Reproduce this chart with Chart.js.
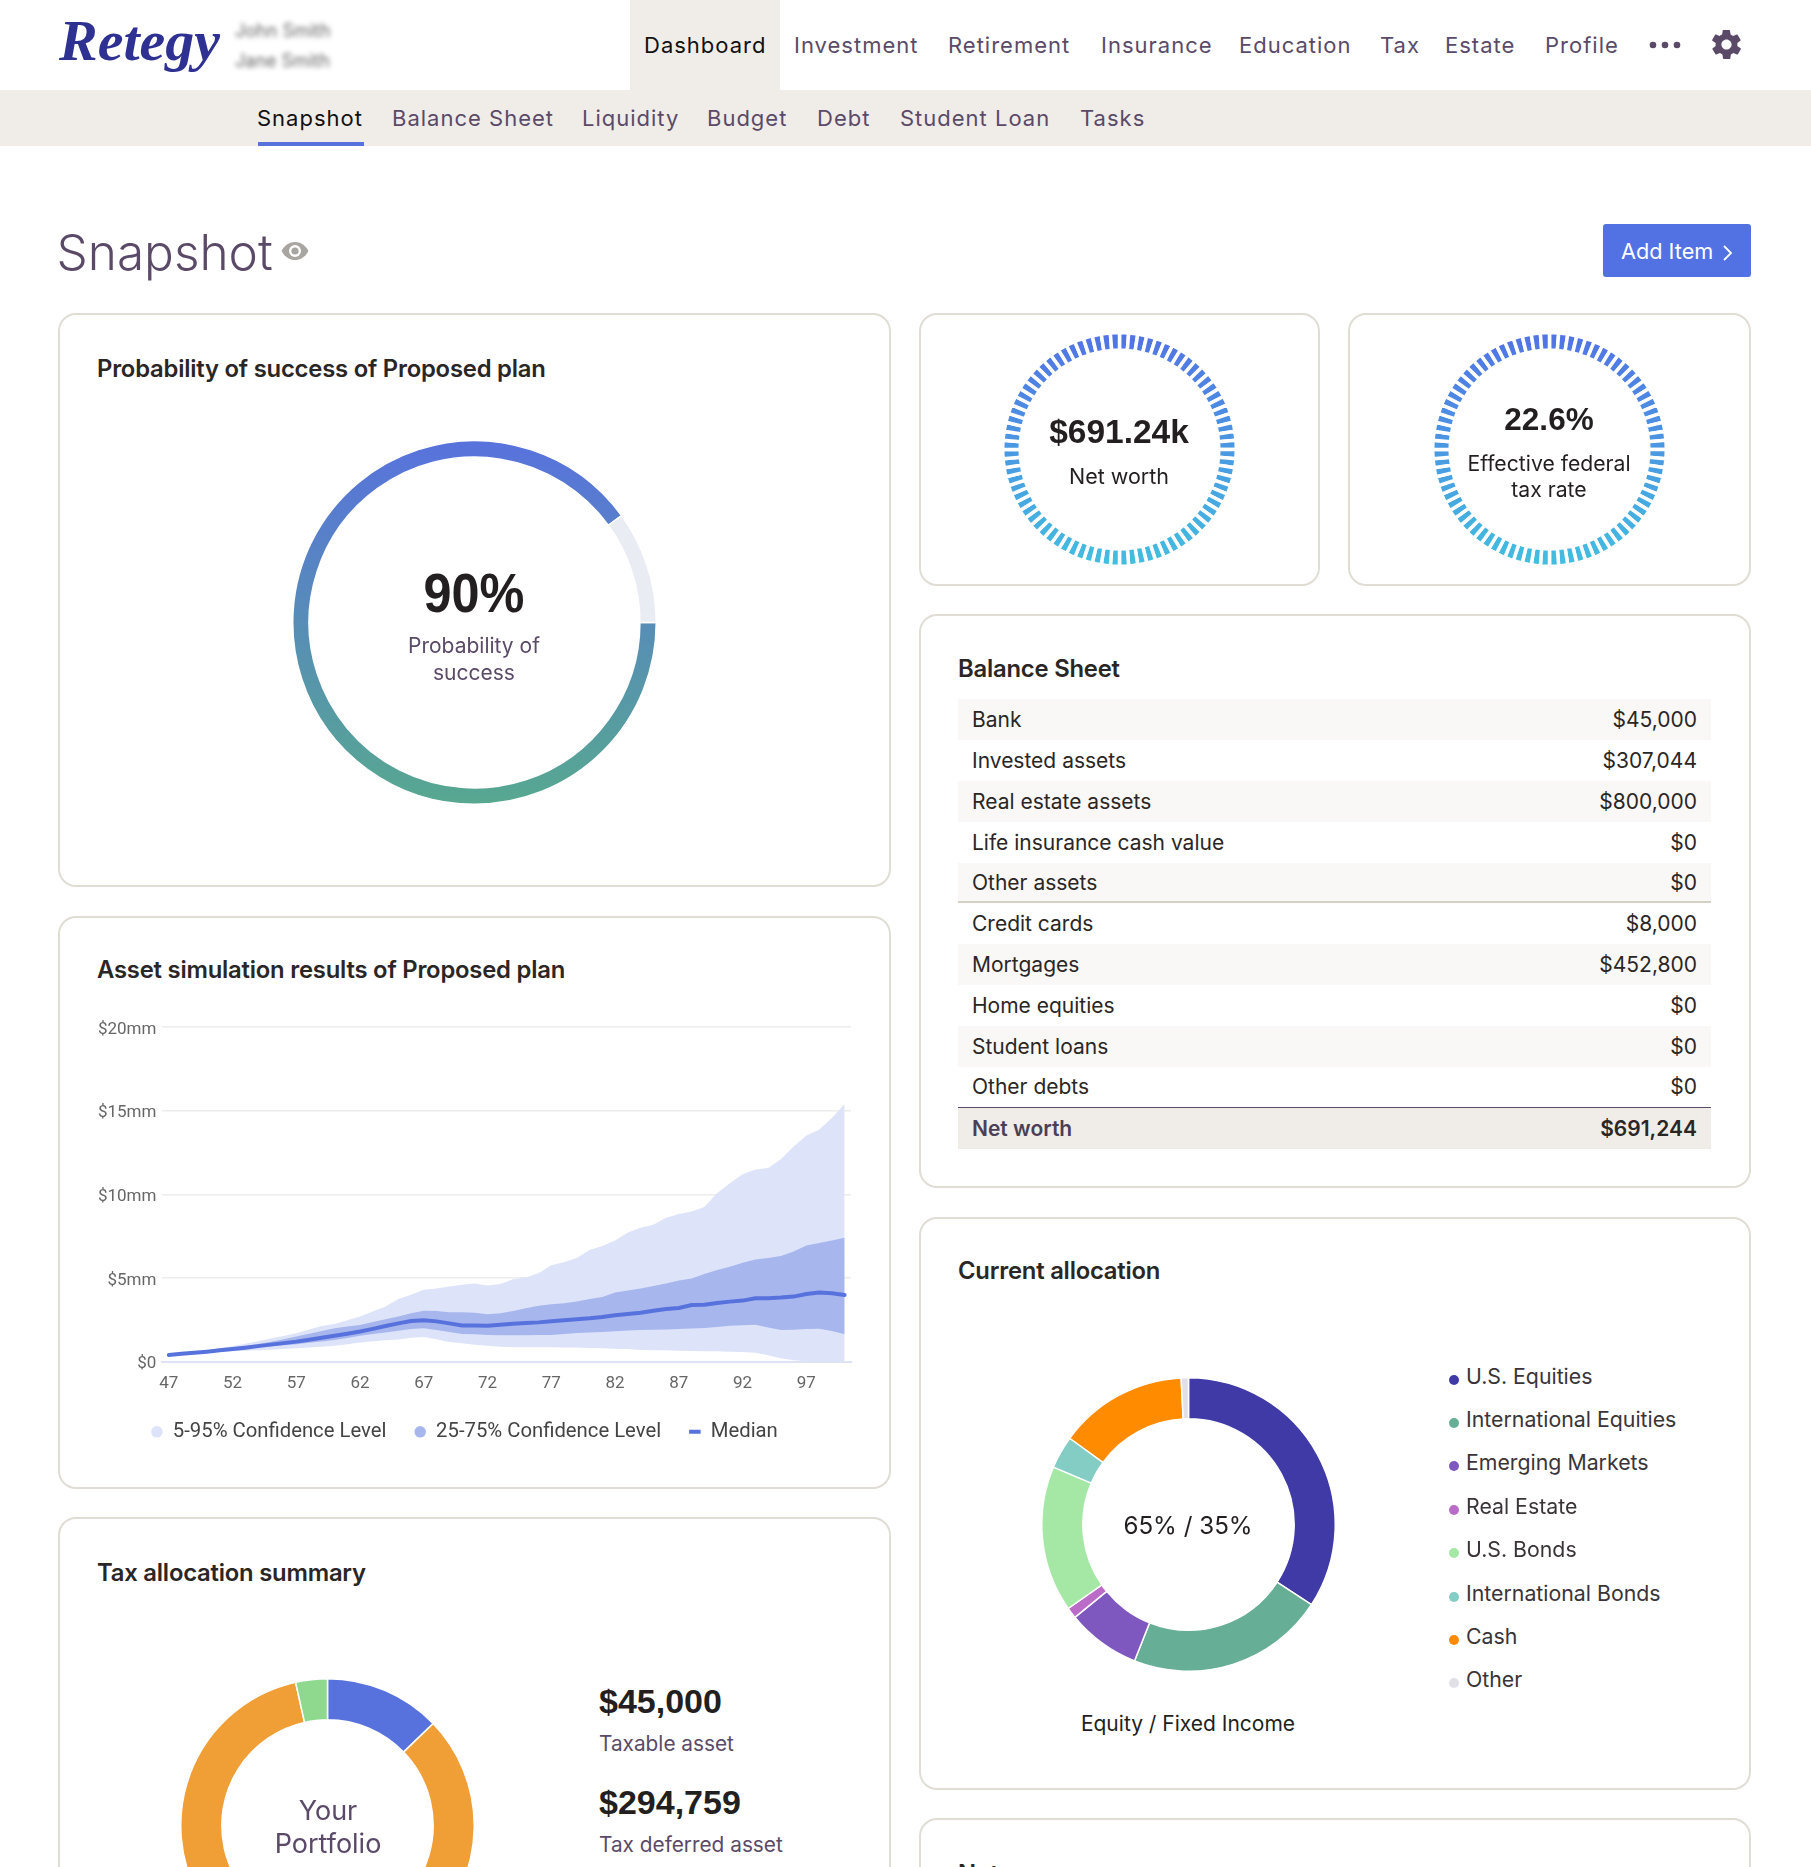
<!DOCTYPE html>
<html>
<head>
<meta charset="utf-8">
<title>Snapshot</title>
<script src="https://cdn.jsdelivr.net/npm/chart.js@4"></script>
<style>
html, body { margin: 0; padding: 0; width: 1811px; height: 1867px; overflow: hidden; background: #fff; }
body { position: relative; font-family: Inter, "Noto Sans", sans-serif; color: #2a2625; }
.t { position: absolute; white-space: nowrap; transform: translateY(-50%); }
.c { position: absolute; white-space: nowrap; transform: translate(-50%, -50%); text-align: center; }
.box { position: absolute; }
.card { position: absolute; box-sizing: border-box; border: 2px solid #e0ddd5; border-radius: 18px; background: #fff; }
.nav { font-size: 22px; letter-spacing: 1px; color: #5a4a68; }
.title { font-size: 23.8px; font-weight: 600; color: #2a2625; letter-spacing: -0.2px; }
.num { font-family: "Liberation Sans", Arial, sans-serif; font-weight: 700; color: #231f20; }
.sub { font-size: 21px; color: #5a4a68; }
canvas { position: absolute; display: block; }
#sheet { position: absolute; left: 958px; top: 699px; width: 753px; }
.row { display: flex; justify-content: space-between; align-items: center; box-sizing: border-box; height: 40.9px; padding: 0 14px; font-size: 21px; color: #2a2625; }
.row.shade { background: #f9f8f6; }
.row.rule { border-bottom: 2px solid #d5d1c5; }
.row.rule2 { border-bottom: 1.5px solid #5a4a68; }
.row.total { background: #f0ede8; font-weight: 600; color: #4b3f58; }
.row.total span:last-child { color: #2a2625; }
.dot { position: absolute; width: 10px; height: 10px; border-radius: 50%; }
</style>
</head>
<body>
<!-- header -->
<div class="box" style="left:630px;top:0;width:150px;height:90px;background:#f0ede8"></div>
<div class="box" style="left:0;top:90px;width:1811px;height:56px;background:#f0ede8"></div>
<div class="box" style="left:258px;top:142px;width:106px;height:4px;background:#5872dd"></div>
<div class="t" style="left:59px;top:40px;font:italic 700 58px 'Liberation Serif',serif;color:#2e3192">Retegy</div>
<div class="t" style="left:235px;top:30px;font-size:18px;color:#666;filter:blur(2.5px)">John Smith</div>
<div class="t" style="left:235px;top:60px;font-size:18px;color:#666;filter:blur(2.5px)">Jane Smith</div>
<div id="topNav"></div>
<div id="subNav"></div>
<svg class="box" style="left:1647px;top:40px" width="36" height="10"><circle cx="6" cy="5" r="3.3" fill="#5a4a68"/><circle cx="18" cy="5" r="3.3" fill="#5a4a68"/><circle cx="30" cy="5" r="3.3" fill="#5a4a68"/></svg>
<svg class="box" style="left:1708.500px;top:26.500px" width="35" height="35" viewBox="0 0 24 24"><path fill="#5a4a68" d="M19.4 13c.1-.3.1-.7.1-1s0-.7-.1-1l2.1-1.6c.2-.2.2-.4.1-.6l-2-3.5c-.1-.2-.4-.3-.6-.2l-2.5 1c-.5-.4-1.1-.7-1.7-1l-.4-2.6c0-.3-.2-.5-.5-.5h-4c-.3 0-.5.2-.5.4l-.4 2.7c-.6.2-1.2.6-1.7 1l-2.5-1c-.2-.1-.5 0-.6.2l-2 3.5c-.1.2-.1.5.1.6L4.6 11c0 .3-.1.7-.1 1s0 .7.1 1l-2.1 1.6c-.2.2-.2.4-.1.6l2 3.5c.1.2.4.3.6.2l2.5-1c.5.4 1.1.7 1.7 1l.4 2.6c0 .3.2.5.5.5h4c.3 0 .5-.2.5-.4l.4-2.7c.6-.2 1.2-.6 1.7-1l2.5 1c.2.1.5 0 .6-.2l2-3.5c.1-.2.1-.5-.1-.6L19.4 13zM12 15.5c-1.9 0-3.5-1.6-3.5-3.5s1.6-3.5 3.5-3.5 3.5 1.6 3.5 3.5-1.6 3.5-3.5 3.5z"/></svg>

<div class="t" style="left:56.500px;top:252px;font-size:49.500px;font-weight:300;color:#5a4a68">Snapshot</div>
<svg class="box" style="left:281px;top:241px" width="28" height="20" viewBox="0 0 28 20"><path fill="#a9a5a0" d="M14 1C7.5 1 2.6 5.4.6 10c2 4.6 6.9 9 13.4 9s11.4-4.4 13.4-9C25.4 5.4 20.500 1 14 1z"/><circle cx="14" cy="10" r="6" fill="#fff"/><circle cx="14" cy="10" r="3.600" fill="#a9a5a0"/></svg>
<div class="box" style="left:1603px;top:224px;width:148px;height:53px;background:#5272e4;border-radius:3px"></div>
<div class="t" style="left:1621px;top:251px;font-size:21.700px;color:#fff">Add Item</div>
<svg class="box" style="left:1722px;top:244px" width="12" height="18"><path d="M2 2l7 7-7 7" fill="none" stroke="#fff" stroke-width="1.800"/></svg>

<!-- cards -->
<div class="card" style="left:58px;top:313px;width:833px;height:574px"></div>
<div class="card" style="left:58px;top:915.500px;width:833px;height:573px"></div>
<div class="card" style="left:58px;top:1517px;width:833px;height:573px"></div>
<div class="card" style="left:919px;top:313px;width:401px;height:273px"></div>
<div class="card" style="left:1348px;top:313px;width:403px;height:273px"></div>
<div class="card" style="left:919px;top:614px;width:832px;height:574px"></div>
<div class="card" style="left:919px;top:1216.500px;width:832px;height:573px"></div>
<div class="card" style="left:919px;top:1818px;width:832px;height:573px"></div>

<div class="t title" style="left:97px;top:367.500px">Probability of success of Proposed plan</div>
<div class="t title" style="left:97px;top:969px">Asset simulation results of Proposed plan</div>
<div class="t title" style="left:97px;top:1571.500px">Tax allocation summary</div>
<div class="t title" style="left:958px;top:668px">Balance Sheet</div>
<div class="t title" style="left:958px;top:1270px">Current allocation</div>
<div class="t title" style="left:958px;top:1873px">Notes</div>

<!-- probability donut -->
<canvas id="successChart" width="365" height="365" style="left:291.500px;top:439.500px"></canvas>
<div class="c num" style="left:474px;top:592px;font-size:56px;transform:translate(-50%,-50%) scaleX(.9)">90%</div>
<div class="c sub" style="left:474px;top:645px">Probability of</div>
<div class="c sub" style="left:474px;top:672px">success</div>

<!-- tick rings -->
<canvas id="netWorthRing" width="237" height="237" style="left:1000.500px;top:331px"></canvas>
<div class="c num" style="left:1119px;top:432px;font-size:33.500px">$691.24k</div>
<div class="c" style="left:1119px;top:476px;font-size:21.500px;color:#231f20">Net worth</div>
<canvas id="taxRateRing" width="237" height="237" style="left:1430.500px;top:331px"></canvas>
<div class="c num" style="left:1549px;top:419px;font-size:31.500px">22.6%</div>
<div class="c" style="left:1549px;top:463px;font-size:21.200px;color:#231f20">Effective federal</div>
<div class="c" style="left:1549px;top:489px;font-size:21.200px;color:#231f20">tax rate</div>

<!-- asset simulation -->
<canvas id="simChart" width="792" height="442" style="left:78px;top:1010px"></canvas>

<!-- tax allocation -->
<canvas id="taxChart" width="295" height="295" style="left:180px;top:1677.500px"></canvas>
<div class="c" style="left:328px;top:1810px;font-size:27px;color:#5a4a68">Your</div>
<div class="c" style="left:328px;top:1843px;font-size:27px;color:#5a4a68">Portfolio</div>
<div class="t num" style="left:599px;top:1700.500px;font-size:34px" id="taxableValue"></div>
<div class="t sub" style="left:599px;top:1743px;font-size:20.800px">Taxable asset</div>
<div class="t num" style="left:599px;top:1801.500px;font-size:34px" id="deferredValue"></div>
<div class="t sub" style="left:599px;top:1844px;font-size:20.800px">Tax deferred asset</div>

<!-- balance sheet -->
<div id="sheet"></div>

<!-- current allocation -->
<canvas id="allocChart" width="295" height="295" style="left:1041px;top:1377px"></canvas>
<div class="c" style="left:1188px;top:1525px;font-size:24.200px;color:#231f20">65% / 35%</div>
<div class="c" style="left:1188px;top:1723px;font-size:21px;color:#231f20">Equity / Fixed Income</div>
<div id="allocLegend"></div>

<script>
const topNavItems = ['Dashboard', 'Investment', 'Retirement', 'Insurance', 'Education', 'Tax', 'Estate', 'Profile'];
const subNavItems = ['Snapshot', 'Balance Sheet', 'Liquidity', 'Budget', 'Debt', 'Student Loan', 'Tasks'];

const successValues = [90, 10];

const ringSegments = [
    1, 1, 1, 1, 1, 1, 1, 1, 1, 1, 1, 1, 1, 1, 1, 1, 1, 1, 1, 1,
    1, 1, 1, 1, 1, 1, 1, 1, 1, 1, 1, 1, 1, 1, 1, 1, 1, 1, 1, 1,
    1, 1, 1, 1, 1, 1, 1, 1, 1, 1, 1, 1, 1, 1, 1, 1, 1, 1, 1, 1,
    1, 1, 1, 1, 1, 1, 1, 1, 1, 1, 1, 1, 1, 1, 1, 1, 1, 1, 1, 1
];

// Ages on the x axis, values in $mm
const ages = [47, 48, 49, 50, 51, 52, 53, 54, 55, 56, 57, 58, 59, 60, 61, 62, 63, 64, 65, 66, 67, 68, 69, 70, 71, 72, 73,
    74, 75, 76, 77, 78, 79, 80, 81, 82, 83, 84, 85, 86, 87, 88, 89, 90, 91, 92, 93, 94, 95, 96, 97, 98, 99, 100];
const upper95 = [0.4, 0.5, 0.58, 0.68, 0.8, 0.92, 1.07, 1.22, 1.38, 1.54, 1.7, 1.92, 2.13, 2.25, 2.48, 2.7, 3.0, 3.3,
    3.75, 4.0, 4.3, 4.37, 4.5, 4.6, 4.67, 4.55, 4.65, 4.93, 5.03, 5.28, 5.76, 5.94, 6.2, 6.68, 6.92, 7.24, 7.72, 8.0,
    8.18, 8.6, 8.83, 8.97, 9.25, 10.07, 10.67, 11.2, 11.49, 11.57, 12.1, 12.86, 13.52, 13.86, 14.56, 15.4];
const lower5 = [0.4, 0.44, 0.48, 0.53, 0.58, 0.63, 0.66, 0.69, 0.72, 0.76, 0.8, 0.85, 0.9, 0.96, 1.05, 1.14, 1.22, 1.28,
    1.33, 1.43, 1.48, 1.34, 1.18, 1.1, 1.02, 0.96, 0.9, 0.86, 0.86, 0.86, 0.86, 0.85, 0.85, 0.82, 0.8, 0.78, 0.76, 0.7,
    0.69, 0.68, 0.66, 0.64, 0.63, 0.62, 0.6, 0.58, 0.54, 0.38, 0.2, 0.08, 0.02, 0, 0, 0];
const upper75 = [0.4, 0.5, 0.57, 0.65, 0.74, 0.83, 0.94, 1.06, 1.19, 1.34, 1.5, 1.67, 1.84, 2.0, 2.1, 2.2, 2.37, 2.53,
    2.7, 2.89, 3.05, 3.03, 2.95, 2.95, 2.93, 2.83, 2.89, 3.03, 3.19, 3.35, 3.43, 3.49, 3.59, 3.75, 3.87, 4.13, 4.25, 4.37,
    4.53, 4.67, 4.85, 4.97, 5.24, 5.48, 5.68, 5.92, 6.1, 6.2, 6.32, 6.58, 6.94, 7.1, 7.24, 7.4];
const lower25 = [0.4, 0.47, 0.53, 0.59, 0.67, 0.76, 0.81, 0.87, 0.93, 0.99, 1.05, 1.13, 1.21, 1.3, 1.42, 1.55, 1.65, 1.75,
    1.85, 1.95, 2.0, 1.9, 1.77, 1.66, 1.64, 1.6, 1.58, 1.58, 1.58, 1.59, 1.6, 1.65, 1.71, 1.74, 1.77, 1.82, 1.87, 1.89,
    1.91, 1.93, 1.95, 1.98, 2.01, 2.08, 2.15, 2.18, 2.21, 2.05, 1.89, 1.91, 1.95, 1.97, 1.83, 1.64];
const median = [0.4, 0.47, 0.53, 0.6, 0.68, 0.76, 0.84, 0.93, 1.02, 1.11, 1.2, 1.31, 1.43, 1.55, 1.67, 1.8, 1.96, 2.13,
    2.29, 2.43, 2.47, 2.41, 2.29, 2.17, 2.17, 2.15, 2.21, 2.27, 2.31, 2.35, 2.41, 2.47, 2.53, 2.59, 2.67, 2.77, 2.85, 2.93,
    3.05, 3.15, 3.21, 3.39, 3.41, 3.51, 3.59, 3.65, 3.79, 3.79, 3.83, 3.89, 4.05, 4.13, 4.09, 3.99];
const yTickLabels = ['$0', '$5mm', '$10mm', '$15mm', '$20mm'];

const taxLabels = ['Taxable asset', 'Tax deferred asset', 'Tax free asset'];
const taxValues = [45000, 294759, 12285];

const allocLabels = ['U.S. Equities', 'International Equities', 'Emerging Markets', 'Real Estate', 'U.S. Bonds', 'International Bonds', 'Cash', 'Other'];
const allocValues = [34.2, 21.8, 8.1, 1.2, 16.1, 3.6, 14.2, 0.8];
const allocColors = ['#3f3aa6', '#67ae96', '#7f58bf', '#bb6cc8', '#a5e8a5', '#83cdc5', '#ff8c00', '#e0e0e6'];

const sheetLabels = ['Bank', 'Invested assets', 'Real estate assets', 'Life insurance cash value', 'Other assets', 'Credit cards', 'Mortgages', 'Home equities', 'Student loans', 'Other debts', 'Net worth'];
const sheetValues = ['$45,000', '$307,044', '$800,000', '$0', '$0', '$8,000', '$452,800', '$0', '$0', '$0', '$691,244'];

Chart.defaults.animation = false;
Chart.defaults.responsive = false;
Chart.defaults.plugins.tooltip.enabled = false;
Chart.defaults.plugins.legend.display = false;

// Header links
const topNavLeft = [644, 794, 948, 1101, 1239, 1380, 1445, 1545];
const subNavLeft = [257, 392, 582, 707, 817, 900, 1080];
function addLinks(holderId, items, lefts, y) {
    const holder = document.getElementById(holderId);
    items.forEach((item, i) => {
        const el = document.createElement('div');
        el.className = 't nav';
        el.style.left = lefts[i] + 'px';
        el.style.top = y + 'px';
        if (i === 0) el.style.color = '#111';
        el.textContent = item;
        holder.appendChild(el);
    });
}
addLinks('topNav', topNavItems, topNavLeft, 45);
addLinks('subNav', subNavItems, subNavLeft, 118);

// Balance sheet rows
const sheet = document.getElementById('sheet');
sheetLabels.forEach((label, i) => {
    const row = document.createElement('div');
    row.className = 'row';
    if (i % 2 === 0 && i < 10) row.classList.add('shade');
    if (label === 'Other assets') row.classList.add('rule');
    if (label === 'Other debts') row.classList.add('rule2');
    if (label === 'Net worth') row.classList.add('total');
    const name = document.createElement('span');
    name.textContent = label;
    const value = document.createElement('span');
    value.textContent = sheetValues[i];
    row.appendChild(name);
    row.appendChild(value);
    sheet.appendChild(row);
});

// Allocation legend
const legendRowsY = [1376, 1419, 1462, 1506, 1549, 1593, 1636, 1679];
const legendHolder = document.getElementById('allocLegend');
allocLabels.forEach((label, i) => {
    const dot = document.createElement('div');
    dot.className = 'dot';
    dot.style.left = '1449px';
    dot.style.top = (legendRowsY[i] - 1) + 'px';
    dot.style.background = allocColors[i];
    legendHolder.appendChild(dot);
    const text = document.createElement('div');
    text.className = 't';
    text.style.left = '1466px';
    text.style.top = legendRowsY[i] + 'px';
    text.style.fontSize = '21.3px';
    text.style.color = '#3a3438';
    text.textContent = label;
    legendHolder.appendChild(text);
});

document.getElementById('taxableValue').textContent = '$' + taxValues[0].toLocaleString('en-US');
document.getElementById('deferredValue').textContent = '$' + taxValues[1].toLocaleString('en-US');

function verticalGradient(canvas, top, bottom) {
    const grad = canvas.getContext('2d').createLinearGradient(0, 0, 0, canvas.height);
    grad.addColorStop(0, top);
    grad.addColorStop(1, bottom);
    return grad;
}

// Probability of success
const successCanvas = document.getElementById('successChart');
new Chart(successCanvas, {
    type: 'doughnut',
    data: {
        labels: ['Success', 'Remainder'],
        datasets: [{
            data: successValues,
            backgroundColor: [verticalGradient(successCanvas, '#5872dd', '#57a890'), '#e9ecf2'],
            borderColor: '#fff',
            borderWidth: 1.5
        }]
    },
    options: { rotation: 90, cutout: '91%' }
});

// Net worth and tax rate rings
['netWorthRing', 'taxRateRing'].forEach(id => {
    const canvas = document.getElementById(id);
    new Chart(canvas, {
        type: 'doughnut',
        data: {
            datasets: [{
                data: ringSegments,
                backgroundColor: verticalGradient(canvas, '#5272e4', '#42bfe0'),
                borderColor: '#fff',
                borderWidth: 3.5
            }]
        },
        options: { cutout: '85%' }
    });
});

// Asset simulation
new Chart(document.getElementById('simChart'), {
    type: 'line',
    data: {
        labels: ages,
        datasets: [
            { label: '5-95% Confidence Level', data: upper95, fill: 1, order: 3, backgroundColor: '#dde3f8', borderColor: '#dde3f8', borderWidth: 0, pointRadius: 0, pointStyle: 'circle' },
            { label: 'low5', data: lower5, order: 3, borderWidth: 0, pointRadius: 0 },
            { label: '25-75% Confidence Level', data: upper75, fill: 3, order: 2, backgroundColor: '#a7b7ee', borderColor: '#a7b7ee', borderWidth: 0, pointRadius: 0, pointStyle: 'circle' },
            { label: 'low25', data: lower25, order: 2, borderWidth: 0, pointRadius: 0 },
            { label: 'Median', data: median, order: 1, borderColor: '#5872dd', backgroundColor: '#5872dd', borderWidth: 4, borderCapStyle: 'round', pointRadius: 0, pointStyle: 'line' }
        ]
    },
    options: {
        layout: { padding: { top: 17, right: 19, left: 0, bottom: 0 } },
        scales: {
            x: {
                offset: true,
                grid: { display: false },
                border: { color: '#dde3f3', width: 2 },
                afterFit: scale => { scale.height = 32; },
                ticks: {
                    autoSkip: false,
                    maxRotation: 0,
                    padding: 4,
                    color: '#666',
                    font: { family: 'Roboto', size: 17 },
                    callback: function(value, index) { return index % 5 === 0 ? ages[index] : ''; }
                }
            },
            y: {
                min: 0,
                max: 20,
                afterFit: scale => { scale.width = 84.4; },
                grid: { color: '#ececec', lineWidth: 1.5, drawTicks: false },
                border: { display: false },
                ticks: {
                    stepSize: 5,
                    padding: 6,
                    labelOffset: 2.3,
                    color: '#666',
                    font: { family: 'Roboto', size: 17 },
                    callback: function(value) { return yTickLabels[value / 5]; }
                }
            }
        },
        plugins: {
            legend: {
                display: true,
                position: 'bottom',
                labels: {
                    usePointStyle: true,
                    pointStyleWidth: 11.5,
                    boxHeight: 8.1,
                    padding: 28,
                    color: '#444',
                    font: { family: 'Roboto', size: 20.3 },
                    filter: item => !item.text.startsWith('low'),
                    sort: (a, b) => a.datasetIndex - b.datasetIndex
                }
            }
        }
    }
});

// Tax allocation
new Chart(document.getElementById('taxChart'), {
    type: 'doughnut',
    data: {
        labels: taxLabels,
        datasets: [{
            data: taxValues,
            backgroundColor: ['#5872dd', '#f09e36', '#8fd98f'],
            borderColor: '#fff',
            borderWidth: 1.5
        }]
    },
    options: { cutout: '72%' }
});

// Current allocation
new Chart(document.getElementById('allocChart'), {
    type: 'doughnut',
    data: {
        labels: allocLabels,
        datasets: [{
            data: allocValues,
            backgroundColor: allocColors,
            borderColor: '#fff',
            borderWidth: 1.5
        }]
    },
    options: { cutout: '72%' }
});
</script>
</body>
</html>
